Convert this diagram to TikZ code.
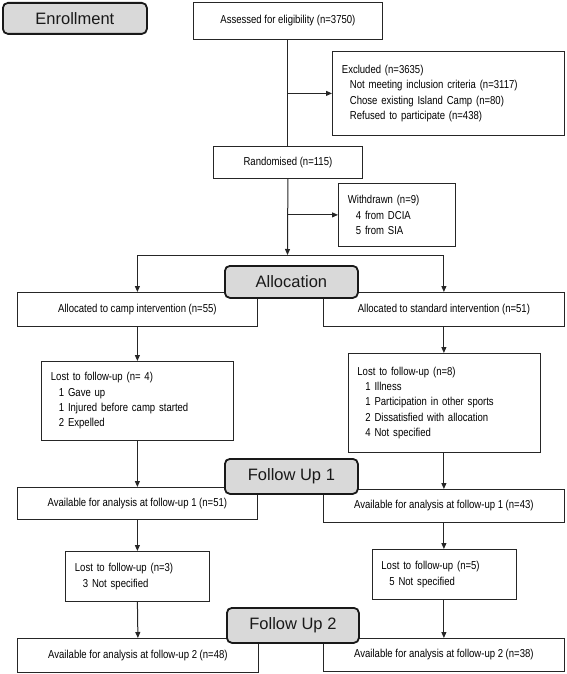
\documentclass[tikz,border=0pt]{standalone}
\usepackage{fontspec}
\setmainfont{Liberation Sans}[FakeStretch=0.83]
\newfontfamily\stagefont{Liberation Sans}
\usetikzlibrary{arrows.meta}
\tikzset{
	cell/.style={draw=black!85, line width=0.8pt, fill=white, inner sep=0pt, anchor=north west, text=black, font=\fontsize{11.5}{15.3}\selectfont},
	note/.style={cell, align=left, inner xsep=9.5pt},
	stage/.style={draw=black!90, line width=1.8pt, fill=black!15, rounded corners=5pt, inner sep=0pt, anchor=north west, text=black!90, font=\stagefont\fontsize{16.5}{18}\selectfont},
	arr/.style={-{Triangle[length=6pt,width=5pt]}, line width=1pt, draw=black!85},
	link/.style={line width=1pt, draw=black!85}
}
\def\ind{\hspace*{8pt}}

\begin{document}
\begin{tikzpicture}[x=1pt,y=-1pt]
			\useasboundingbox (0,0) rectangle (567,674);
			%%%%% ENROLLMENT %%%%%
			
			\node[stage, minimum width=144pt, minimum height=31pt] (enrol) at (2,2) {Enrollment};
			\node[cell, minimum width=189pt, minimum height=37pt] (assess) at (193,2) {Assessed for eligibility (n=3750)};
			\node[note, text width=213pt, minimum height=84pt] (excl) at (332,51) {Excluded (n=3635)\\ \ind Not meeting inclusion criteria (n=3117)\\ \ind Chose existing Island Camp (n=80)\\ \ind Refused to participate (n=438)\\[-4pt]};
			\node[cell, minimum width=149pt, minimum height=32pt] (rand) at (213,146) {Randomised (n=115)};
			\node[note, text width=98pt, minimum height=63pt] (wdraw) at (338,183) {Withdrawn (n=9)\\ \ind 4 from DCIA\\ \ind 5 from SIA};
			\coordinate (split) at (287.5,255);
			
			%%%%% ALLOCATION %%%%%
			
			\node[cell, minimum width=240pt, minimum height=34pt] (camp) at (17,292) {Allocated to camp intervention (n=55)};
			\node[cell, minimum width=241pt, minimum height=34pt] (std) at (323,292) {Allocated to standard intervention (n=51)};
			\node[note, text width=173pt, minimum height=79pt] (lostA) at (41,361) {Lost to follow-up (n= 4)\\ \ind 1 Gave up\\ \ind 1 Injured before camp started\\ \ind 2 Expelled};
			\node[note, text width=173pt, minimum height=99pt] (lostB) at (347.5,353) {Lost to follow-up (n=8)\\ \ind 1 Illness\\ \ind 1 Participation in other sports\\ \ind 2 Dissatisfied with allocation\\ \ind 4 Not specified};
			
			%%%%% FOLLOW UP %%%%%
			
			\node[cell, minimum width=240pt, minimum height=32pt] (fuA) at (17,487) {Available for analysis at follow-up 1 (n=51)};
			\node[cell, minimum width=241pt, minimum height=33pt] (fuB) at (323,489) {Available for analysis at follow-up 1 (n=43)};
			\node[note, text width=125pt, minimum height=50pt] (lostC) at (65,551) {Lost to follow-up (n=3)\\ \ind 3 Not specified};
			\node[note, text width=125pt, minimum height=50pt] (lostD) at (371.5,549) {Lost to follow-up (n=5)\\ \ind 5 Not specified};
			\node[cell, minimum width=241pt, minimum height=34pt] (endA) at (17,638) {Available for analysis at follow-up 2 (n=48)};
			\node[cell, minimum width=241pt, minimum height=33pt] (endB) at (323,638) {Available for analysis at follow-up 2 (n=38)};
			
			\node[stage, minimum width=133pt, minimum height=32pt] (alloc) at (224,265) {Allocation};
			\node[stage, minimum width=133pt, minimum height=35pt] (follow1) at (224,458) {Follow Up 1};
			\node[stage, minimum width=132pt, minimum height=35pt] (follow2) at (226,607) {Follow Up 2};
			
			%%%%% ARROWS %%%%%
			
			\draw[link] (assess.south) -- (rand.north);
			\draw[arr] (assess.south |- excl.west) -- (excl.west);
			\draw[arr] (rand.south) -- (split);
			\draw[arr] (rand.south |- wdraw.west) -- (wdraw.west);
			\draw[link] (camp.north |- split) -- (std.north |- split);
			\draw[arr] (camp.north |- split) -- (camp.north);
			\draw[arr] (std.north |- split) -- (std.north);
			
			\draw[arr] (camp.south) -- (lostA.north);
			\draw[arr] (lostA.south) -- (fuA.north);
			\draw[arr] (fuA.south) -- (lostC.north);
			\draw[arr] (lostC.south) -- (endA.north);
			
			\draw[arr] (std.south) -- (lostB.north);
			\draw[arr] (lostB.south) -- (fuB.north);
			\draw[arr] (fuB.south) -- (lostD.north);
			\draw[arr] (lostD.south) -- (endB.north);
			
\end{tikzpicture}
\end{document}
